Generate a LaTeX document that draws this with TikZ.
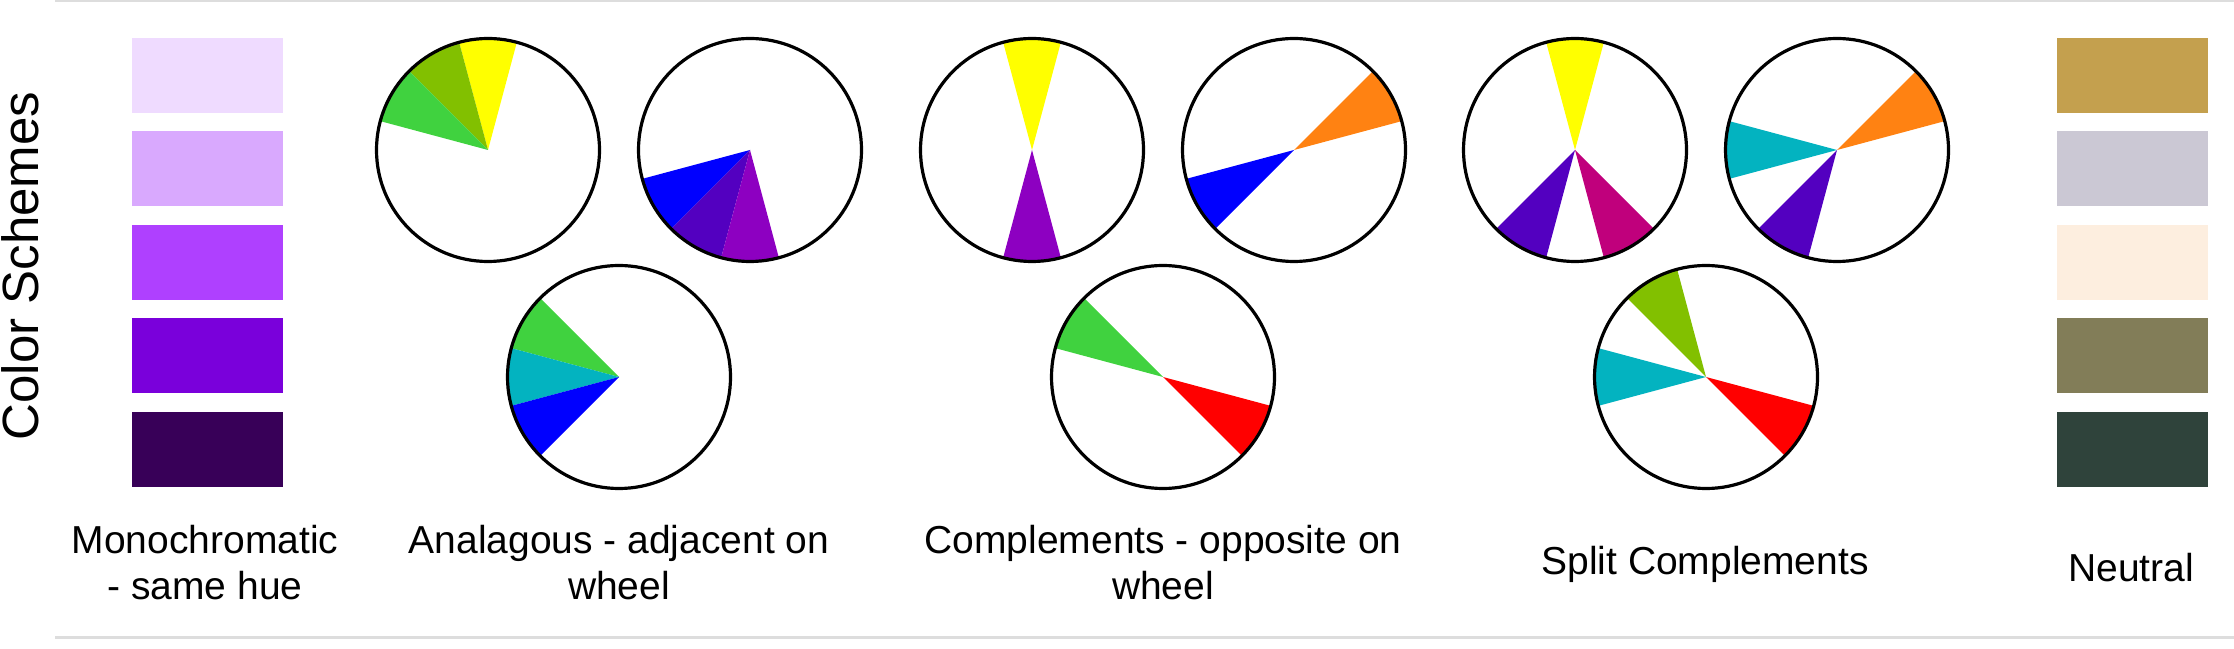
\documentclass[tikz,border=0pt]{standalone}
\usepackage{fontspec}
\setmainfont{Liberation Sans}
\usepackage{xcolor}
\usetikzlibrary{positioning,backgrounds}

\definecolor{mono1}{HTML}{EFDBFF}
\definecolor{mono2}{HTML}{D9A9FE}
\definecolor{mono3}{HTML}{AF40FF}
\definecolor{mono4}{HTML}{7A00DB}
\definecolor{mono5}{HTML}{380058}
\definecolor{neu1}{HTML}{C4A04E}
\definecolor{neu2}{HTML}{CBC8D4}
\definecolor{neu3}{HTML}{FDEEDF}
\definecolor{neu4}{HTML}{827D58}
\definecolor{neu5}{HTML}{2F433B}
\definecolor{hYellow}{HTML}{FFFF00}
\definecolor{hYelGreen}{HTML}{82C000}
\definecolor{hGreen}{HTML}{40D23F}
\definecolor{hTeal}{HTML}{03B3C0}
\definecolor{hBlue}{HTML}{0000FF}
\definecolor{hIndigo}{HTML}{5300C0}
\definecolor{hViolet}{HTML}{8D00C1}
\definecolor{hMagenta}{HTML}{C0007C}
\definecolor{hRed}{HTML}{FF0000}
\definecolor{hOrange}{HTML}{FF8212}
\definecolor{ruleGray}{HTML}{DDDDDD}

\begin{document}
\begin{tikzpicture}[
    x=1pt, y=1pt,
    lbl/.style={font=\fontsize{39}{46}\selectfont, align=center, inner sep=0pt},
    swatch/.style={minimum width=151pt, minimum height=75pt, inner sep=0pt, outer sep=0pt},
    wheel/.style={circle, draw, line width=3.2pt, minimum size=223pt, inner sep=0pt},
    rule/.style={draw=ruleGray, line width=3pt},
    ]
\useasboundingbox (0,0) rectangle (2234,648);

\draw[rule] (55,647) -- (2234,647);
\draw[rule] (55,11) -- (2234,11);

\node[font=\fontsize{51}{60}\selectfont, rotate=90, inner sep=0pt] (title) at (20,382) {Color Schemes};

% monochromatic swatches
\node[swatch, fill=mono1] (m1) at (207,572.5) {};
\node[swatch, fill=mono2, below=18.5pt of m1] (m2) {};
\node[swatch, fill=mono3, below=18.5pt of m2] (m3) {};
\node[swatch, fill=mono4, below=18.5pt of m3] (m4) {};
\node[swatch, fill=mono5, below=18.5pt of m4] (m5) {};

% neutral swatches
\node[swatch, fill=neu1] (n1) at (2132.5,572.5) {};
\node[swatch, fill=neu2, below=18.5pt of n1] (n2) {};
\node[swatch, fill=neu3, below=18.5pt of n2] (n3) {};
\node[swatch, fill=neu4, below=18.5pt of n3] (n4) {};
\node[swatch, fill=neu5, below=18.5pt of n4] (n5) {};

% wheels
\node[wheel] (a1) at (488,498) {};
\node[wheel] (a2) at (750,498) {};
\node[wheel] (a3) at (619,271) {};
\node[wheel] (c1) at (1032,498) {};
\node[wheel] (c2) at (1294,498) {};
\node[wheel] (c3) at (1163,271) {};
\node[wheel] (s1) at (1575,498) {};
\node[wheel] (s2) at (1837,498) {};
\node[wheel] (s3) at (1706,271) {};

\begin{scope}[on background layer]
\foreach \w/\a/\c in {a1/90/hYellow, a1/120/hYelGreen, a1/150/hGreen,
                      a2/210/hBlue, a2/240/hIndigo, a2/270/hViolet,
                      a3/150/hGreen, a3/180/hTeal, a3/210/hBlue,
                      c1/90/hYellow, c1/270/hViolet,
                      c2/30/hOrange, c2/210/hBlue,
                      c3/150/hGreen, c3/330/hRed,
                      s1/90/hYellow, s1/240/hIndigo, s1/300/hMagenta,
                      s2/30/hOrange, s2/180/hTeal, s2/240/hIndigo,
                      s3/120/hYelGreen, s3/180/hTeal, s3/330/hRed}
  \fill[\c] (\w.center) -- ++(\a-15:111.5) arc[start angle=\a-15, delta angle=30, radius=111.5] -- cycle;
\end{scope}

% labels
\node[lbl] (mono) at (205,85.5) {Monochromatic\\- same hue};
\node[lbl] (analog) at (a3 |- mono) {Analagous - adjacent on\\wheel};
\node[lbl] (compl) at (c3 |- mono) {Complements - opposite on\\wheel};
\node[lbl, anchor=base] (split) at (1705,74) {Split Complements};
\node[lbl, anchor=base] (neutral) at (2131,67) {Neutral};
\end{tikzpicture}
\end{document}
